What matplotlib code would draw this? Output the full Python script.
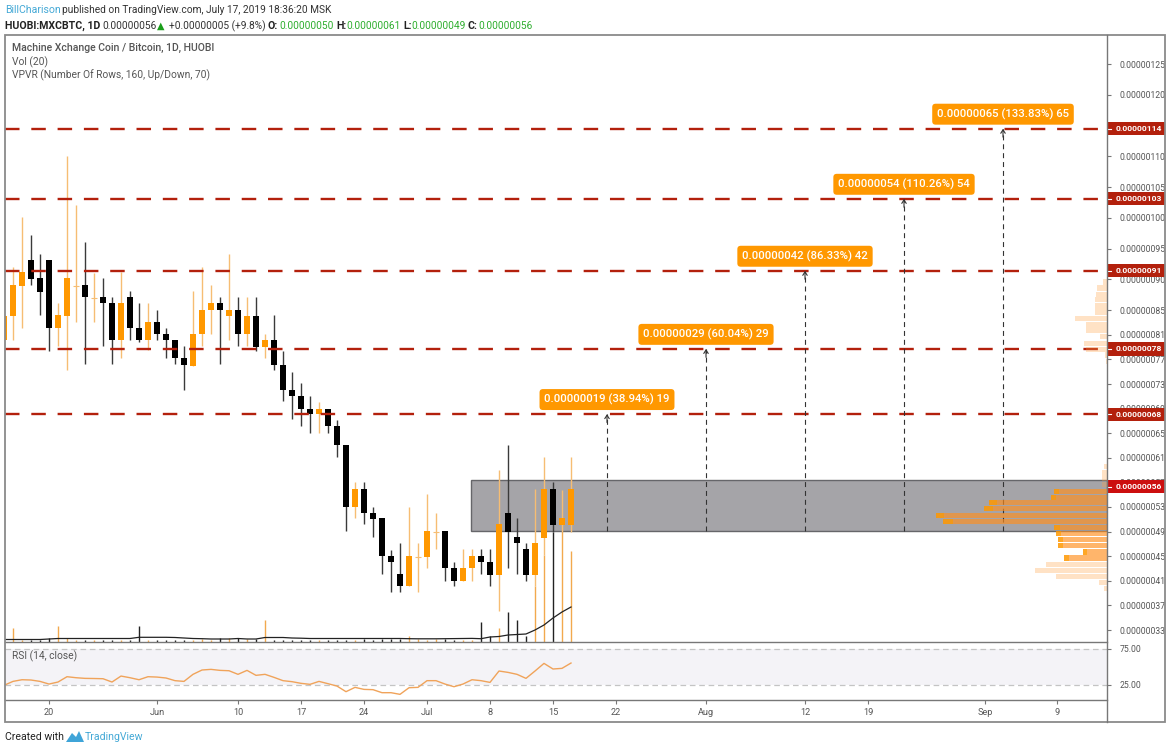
import numpy as np
import matplotlib
matplotlib.use("Agg")
import matplotlib.pyplot as plt
from matplotlib.lines import Line2D
from matplotlib.patches import Rectangle, Polygon

W, H = 1170, 750
plt.rcParams['font.family'] = ['Roboto', 'DejaVu Sans']

# daily candles, 15 May 2019 to 17 Jul 2019, price in 1e-8 BTC
opens = [80.1,84.1,89.0,93.2,90.2,93.2,82.1,84.1,89.0,89.1,87.0,87.1,86.1,80.1,87.1,82.1,
         80.1,83.1,81.1,80.1,77.2,76.0,81.1,85.0,86.1,84.1,85.1,81.1,84.1,79.0,80.1,76.1,
         72.1,71.1,69.0,68.1,69.0,66.1,63.1,53.0,56.0,52.1,51.2,45.0,42.1,40.1,44.9,44.9,
         49.0,49.1,43.1,41.0,43.1,45.0,44.1,41.9,52.1,48.1,46.1,41.9,48.0,56.0,50.0,50.0]
highs = [84.2,92.1,100.2,97.2,94.2,93.2,86.1,110.1,102.1,96.1,91.0,90.2,87.1,91.2,88.1,86.1,
         86.1,85.1,82.1,80.1,79.1,88.1,92.1,89.1,87.1,94.2,87.1,87.1,87.1,81.1,84.2,78.3,
         75.0,73.1,71.1,70.1,69.0,67.1,63.1,57.1,57.1,53.0,51.2,46.0,47.1,53.0,47.1,55.1,
         52.1,49.1,44.1,46.1,46.1,46.1,46.1,59.0,63.1,51.2,47.1,56.0,61.2,57.1,55.8,61.2]
lows = [80.1,80.1,82.1,89.1,84.2,78.3,79.1,75.2,83.1,76.2,83.1,79.1,76.2,77.3,80.1,79.8,
        78.6,80.1,77.3,76.2,72.1,76.0,79.1,81.2,76.2,80.1,79.1,79.1,78.3,77.3,75.2,70.2,
        67.3,66.2,65.1,65.1,65.1,61.2,49.1,51.2,50.2,48.1,42.1,39.1,39.1,40.1,39.1,43.1,
        46.1,41.0,40.1,41.0,41.0,42.1,40.1,36.1,43.1,42.1,41.0,40.1,45.2,49.0,49.0,49.0]
closes = [84.1,89.1,91.2,90.1,88.0,82.1,84.2,90.2,89.1,87.1,87.1,86.1,80.1,86.1,82.1,80.1,
          83.1,81.1,80.1,77.2,76.1,81.1,85.1,86.1,85.0,85.1,81.1,84.1,79.0,80.1,76.1,72.1,
          71.1,69.0,68.1,69.0,66.1,63.1,53.0,56.0,52.1,51.1,45.0,44.1,40.1,45.0,45.0,49.1,
          49.1,43.1,41.0,43.1,45.0,44.1,41.9,50.2,49.0,47.1,41.9,47.1,56.0,50.0,51.2,56.0]

volumes = [1,14,2,2,2,4,16,4,2,2,2,2,2,2,2,16,2,2,2,2,2,2,3,2,4,4,4,3,3,22,2,2,
           2,2,2,2,2,2,2,2,3,2,3,3,3,6,3,2,3,3,2,2,2,20,6,14,30,22,6,56,87,110,112,91]
vol_ma = [2.5,2.5,2.5,2.5,2.5,3,3.5,3.5,3.5,3.5,3.5,3.5,3.5,3.5,3.5,4.7,4.7,4.7,4.7,4.5,4,3.5,3.3,3,3,3,3.5,3,3,4.5,4.5,4.5,
          4,3.8,3.5,3.5,3.5,3.5,3.5,3.5,3.5,3.5,3.5,3.5,3.5,3.3,3.2,3.2,3.2,3.3,3.4,3.5,3.6,3.3,5,5.5,7,7.5,8,12,17,24,30,35]

rsi = [24.1,29.6,31.9,31.5,29.6,25.9,28.7,36.1,34.7,33.8,33.6,33.3,28.7,37,34.7,31.9,
       36.1,35.6,34.3,30.6,29.6,39.4,45.4,46.3,44.9,44.4,39.4,44.9,38,39.4,35.2,30.6,
       29.2,26.9,25.5,29.6,26.4,23.1,15.3,21.3,18.5,18.1,13.9,13.9,11.6,20.8,21.3,30.6,
       30.6,25.9,22.2,25.9,31.9,30.6,28.2,44,42.1,39.4,33.8,44,54.6,46.8,47.7,55.1]

# volume profile rows
vp_price = [89.6,88.6,87.6,86.7,85.7,84.7,83.6,82.6,81.7,80.7,79.6,78.6,77.7,76.7,
            59.6,58.6,57.7,56.7,55.5,54.6,53.7,52.7,51.6,50.7,49.7,48.7,47.7,46.7,45.7,44.7,
            43.7,42.7,41.7,40.7,39.7]
vp_total = [4,10,11,12,12,12,32,21,21,7,23,21,2,1,
            3,5,5,5,53,56,118,123,171,164,53,51,49,49,24,43,
            61,72,51,8,3]
vp_down = [0,0,0,0,0,0,0,0,0,0,0,0,0,0,
           0,0,0,0,5,5,8,9,8,10,6,5,5,5,4,5,
           0,0,0,0,0]
value_area = [False]*18 + [True]*12 + [False]*5

level_prices = [114.5, 103.1, 91.4, 78.7, 68.1]
level_labels = ['0.00000114', '0.00000103', '0.00000091', '0.00000078', '0.00000068']
last_price = 56.3
arrow_days = [106, 95, 84, 73, 62]
arrow_labels = ['0.00000065 (133.83%) 65', '0.00000054 (110.26%) 54', '0.00000042 (86.33%) 42',
                '0.00000029 (60.04%) 29', '0.00000019 (38.94%) 19']
box_left, box_top, box_bottom = 46.9, 57.4, 49.1

price_ticks = [33,37,41,45,49,53,57,61,65,69,73,77,81,85,90,95,100,105,110,120,125]
price_tick_labels = ['0.000000%02d' % p if p < 100 else '0.00000%d' % p for p in price_ticks]
date_ticks = [0,12,21,28,35,42,49,56,63,73,84,91,104,112]
date_labels = ['20','Jun','10','17','24','Jul','8','15','22','Aug','12','19','Sep','9']

XLIM = (-44/9.0, 1058/9.0)
GREY = '#555555'
DARKRED = '#b3200c'
ORANGE = '#ff9800'

def make_axes(x0, y0, x1, y1, **kw):
    return fig.add_axes([x0/W, 1-y1/H, (x1-x0)/W, (y1-y0)/H], **kw)

def ptext(x, y, s, **kw):
    kw.setdefault('va', 'center')
    kw.setdefault('fontsize', 7.4)
    return fig.text(x/W, 1-y/H, s, **kw)

fig = plt.figure(figsize=(W/100, H/100), dpi=100, facecolor='white')

days = np.arange(-5, 59)
up = np.array(closes) >= np.array(opens)

# volume sits behind the candles
vol_ax = make_axes(5, 35, 1107, 642, zorder=1)
vol_ax.set_xlim(XLIM)
vol_ax.set_ylim(0, 607)
vol_ax.axis('off')
vol_ax.vlines(days, 0, volumes, colors=[('#f2a94e' if u else '#222222') for u in up], lw=1.0)
vol_ax.plot(days, vol_ma, color='#222222', lw=0.9)

ax = make_axes(5, 35, 1107, 642, zorder=2)
ax.patch.set_alpha(0)
ax.set_xlim(XLIM)
ax.set_ylim(33-12/6.15, 33+595/6.15)
for s in ax.spines.values():
    s.set_visible(False)
ax.set_xticks([])

ax.add_patch(Rectangle((box_left, box_bottom), XLIM[1]-box_left, box_top-box_bottom,
                       fc='#a5a4a8', ec='#66666a', lw=1, zorder=1))

for d, o, h, l, c, u in zip(days, opens, highs, lows, closes, up):
    wick = '#f6bd73' if u else '#3a3a3a'
    body = ORANGE if u else '#000000'
    ax.vlines(d, l, h, color=wick, lw=1.0, zorder=2)
    if abs(c-o) < 0.3:
        ax.hlines(o, d-0.33, d+0.33, color=wick, lw=0.8, zorder=3)
    else:
        ax.bar(d, abs(c-o), bottom=min(o, c), width=0.68, color=body, zorder=3)

for p in level_prices:
    ax.axhline(p, color=DARKRED, lw=1.7, ls=(0, (6.14, 5.0)), zorder=4)

for d, p, s in zip(arrow_days, level_prices, arrow_labels):
    ax.vlines(d, box_bottom, p, color='#333333', lw=0.8, ls=(0, (4.5, 3.5)), zorder=4)
    ax.annotate('', xy=(d, p), xytext=(0, -6), textcoords='offset points',
                arrowprops=dict(arrowstyle='->,head_width=0.16,head_length=0.25', color='#333333',
                                lw=0.8, shrinkA=0, shrinkB=0), zorder=5)
    ax.annotate(s, xy=(d, p), xytext=(0, 10.5), textcoords='offset points', ha='center', va='center',
                color='white', fontsize=8.2, fontweight='medium', zorder=6,
                bbox=dict(boxstyle='round,pad=0.42,rounding_size=0.3', fc=ORANGE, ec='none'))

# price scale
ax.yaxis.tick_right()
ax.set_yticks(price_ticks)
ax.set_yticklabels(price_tick_labels, fontsize=6.2, color=GREY)
ax.tick_params(axis='y', length=3, width=0.8, color='#777777', pad=6)

# tags on the price scale
tr = ax.get_yaxis_transform()
for p, s, col in zip(level_prices+[last_price], level_labels+['0.00000056'], [DARKRED]*5+['#cc0e0e']):
    ax.add_patch(Rectangle((1.0, p-1.07), 58/1102, 2.14, transform=tr, fc=col, ec='none', clip_on=False, zorder=7))
    ax.plot([1.0005, 1.004], [p, p], transform=tr, color='white', lw=0.8, clip_on=False, zorder=8)
    ax.text(1+9/1102, p, s, transform=tr, color='white', fontsize=6.1, fontweight='bold',
            va='center', ha='left', zorder=8, clip_on=False)

# volume profile on top of the box
vp_ax = make_axes(5, 35, 1107, 642, zorder=3)
vp_ax.patch.set_alpha(0)
vp_ax.axis('off')
vp_ax.set_xlim(1102, 0)
vp_ax.set_ylim(ax.get_ylim())
for p, t, dn, va in zip(vp_price, vp_total, vp_down, value_area):
    if va:
        vp_ax.barh(p, t-dn, height=0.85, color='#ff8f1f', alpha=0.66)
        vp_ax.barh(p, dn, left=t-dn, height=0.85, color='#ff9800', alpha=0.85)
    else:
        vp_ax.barh(p, t, height=0.85, color='#ffa040', alpha=0.3)

# RSI pane
rsi_ax = make_axes(5, 642, 1107, 700, zorder=2)
rsi_ax.set_xlim(XLIM)
rsi_ax.set_ylim(25-15.3/0.72, 25+42.7/0.72)
rsi_ax.axhspan(25, 75, color='#f4f3f7', lw=0)
for v in (25, 75):
    rsi_ax.axhline(v, color='#c4c4c4', lw=0.9, ls=(0, (4.5, 3)))
rsi_ax.plot(days, rsi, color='#f0a35a', lw=1.0)
for s in ('left', 'right'):
    rsi_ax.spines[s].set_visible(False)
for s in ('top', 'bottom'):
    rsi_ax.spines[s].set_color('#777777')
    rsi_ax.spines[s].set_linewidth(1.0)
rsi_ax.yaxis.tick_right()
rsi_ax.set_yticks([25, 75])
rsi_ax.set_yticklabels(['25.00', '75.00'], fontsize=6.2, color=GREY)
rsi_ax.tick_params(axis='y', length=3, width=0.8, color='#777777', pad=6)
rsi_ax.set_xticks(date_ticks)
rsi_ax.set_xticklabels(date_labels, fontsize=6.6, color=GREY)
rsi_ax.tick_params(axis='x', length=3, width=0.8, color='#777777', pad=3)

# outer frame and price scale divider
fig.add_artist(Rectangle((5/W, 1-722/H), 1160/W, 687/H, fill=False, ec='#8a8a8a', lw=1.3,
                         transform=fig.transFigure, zorder=10))
fig.add_artist(Line2D([1107/W, 1107/W], [1-35/H, 1-722/H], color='#777777', lw=1.0, zorder=10))

# header
ptext(5, 10, 'BillCharison', color='#45a9d6', fontsize=7.6)
ptext(62, 10, 'published on TradingView.com, July 17, 2019 18:36:20 MSK', color='#333333', fontsize=7.3)
ptext(5, 26, 'HUOBI:MXCBTC, 1D', color='#222222', fontweight='bold', fontsize=7.6)
ptext(102, 26, '0.00000056', color='#333333', fontsize=7.3)
ptext(157, 26, '▲', color='#1b9e1b', fontsize=7, family='DejaVu Sans')
ptext(169, 26, '+0.00000005 (+9.8%)', color='#333333', fontsize=7.3)
for x0, x1, k, v in [(268, 279, 'O:', '0.00000050'), (336, 346, 'H:', '0.00000061'),
                     (403, 411, 'L:', '0.00000049'), (468, 478, 'C:', '0.00000056')]:
    ptext(x0, 26, k, color='#222222', fontweight='bold', fontsize=7.6)
    ptext(x1, 26, v, color='#2fae2f', fontsize=7.3)

# pane legends
ptext(12, 48, 'Machine Xchange Coin / Bitcoin, 1D, HUOBI', color=GREY, fontweight='medium', fontsize=7.6, zorder=11)
ptext(12, 62, 'Vol (20)', color=GREY, zorder=11)
ptext(12, 75, 'VPVR (Number Of Rows, 160, Up/Down, 70)', color=GREY, zorder=11)
ptext(12, 656, 'RSI (14, close)', color=GREY, zorder=11)

# footer
ptext(5, 737, 'Created with', color='#222222', fontsize=7.6)
fig.add_artist(Polygon([(66/W, 1-742/H), (72/W, 1-733/H), (76/W, 1-737/H), (79/W, 1-731/H),
                        (84/W, 1-742/H)], closed=True, fc='#3fa4d8', ec='none', transform=fig.transFigure))
ptext(85, 737, 'TradingView', color='#45a9d6', fontsize=7.6)

fig.savefig('out.png', dpi=100, facecolor='white')
